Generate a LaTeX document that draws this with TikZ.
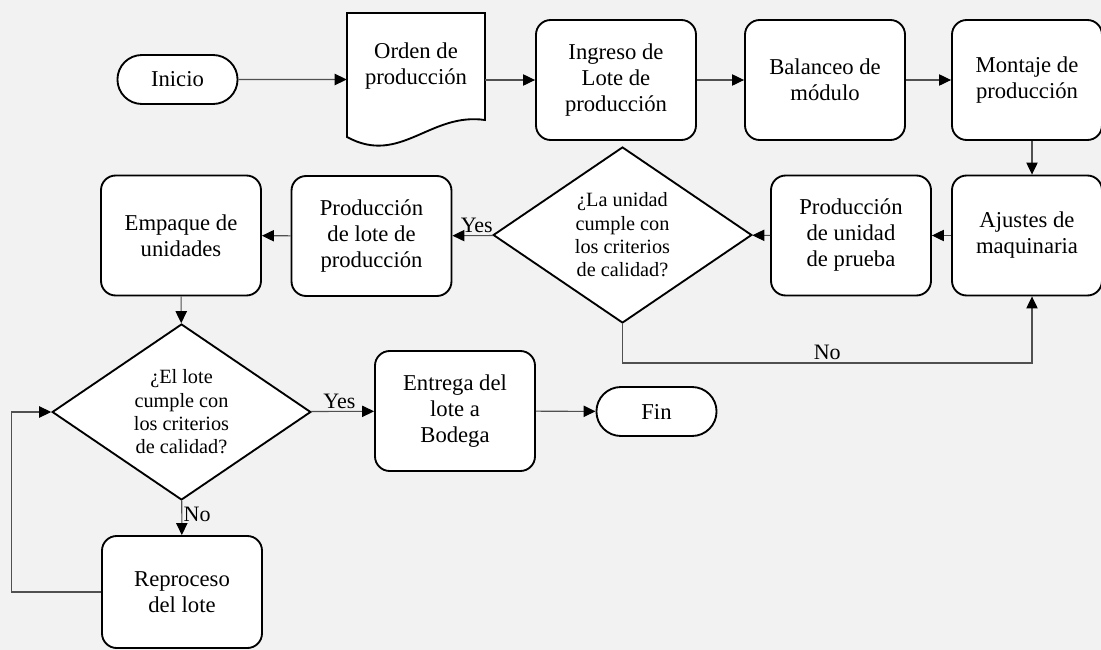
\documentclass[tikz,border=0pt]{standalone}
\usepackage{fontspec}
\setmainfont{Liberation Serif}
\usetikzlibrary{positioning,shapes.geometric,shapes.misc,arrows.meta}
\definecolor{fondo}{RGB}{242,242,242}
\definecolor{linea}{RGB}{80,80,80}

\begin{document}
\begin{tikzpicture}[x=0.75pt, y=-0.75pt,
    proceso/.style = { draw, line width=1.4pt, fill=white, rounded corners=11pt, align=center,
      minimum width=120pt, minimum height=90pt, font=\fontsize{17}{19.5}\selectfont },
    terminal/.style = { draw, line width=1.4pt, fill=white, rounded rectangle,
      minimum width=96.75pt, minimum height=36.75pt, font=\fontsize{17}{19.5}\selectfont },
    decision/.style = { draw, line width=1.4pt, fill=white, diamond, aspect=1.47, inner sep=0pt,
      align=center, minimum width=194pt, minimum height=132pt, font=\fontsize{15.2}{17.5}\selectfont },
    flecha/.style = { draw=linea, line width=0.8pt, -{Triangle[length=9pt,width=8.5pt,color=black]} },
    etiqueta/.style = { font=\fontsize{16.5}{18}\selectfont, inner sep=2pt } ]
  \useasboundingbox (0,0) rectangle (1101,650);
  \fill[fondo] (0,0) rectangle (1101,650);

  % primera fila
  \node[terminal] (inicio) at (177.5,79.5) {Inicio};
  \draw[line width=1.4pt, fill=white] (347,13) -- (485,13) -- (485,120)
    .. controls (430,112) and (400,166) .. (347,137) -- cycle;
  \node[align=center, inner sep=0pt, minimum width=103.5pt, minimum height=80.25pt,
    font=\fontsize{17}{19.5}\selectfont] (orden) at (416,66.5) {Orden de\\producción};
  \node[proceso] (ingreso) at (616,80) {Ingreso de\\Lote de\\producción};
  \node[proceso] (balanceo) at (825,80) {Balanceo de\\módulo};
  \node[proceso, minimum width=112.5pt] (montaje) at (1027,80) {Montaje de\\producción};

  % segunda fila
  \node[proceso, minimum width=112.5pt] (ajustes) at (1027,235.5) {Ajustes de\\maquinaria};
  \node[proceso] (unidad) at (851,235.5) {Producción\\de unidad\\de prueba};
  \node[decision] (calidadU) at (622.5,235) {¿La unidad\\cumple con\\los criterios\\de calidad?};
  \node[proceso] (lote) at (371.5,236) {Producción\\de lote de\\producción};
  \node[proceso] (empaque) at (181,235.5) {Empaque de\\unidades};

  % tercera fila
  \node[decision] (calidadL) at (181.5,412) {¿El lote\\cumple con\\los criterios\\de calidad?};
  \node[proceso] (entrega) at (455,411) {Entrega del\\lote a\\Bodega};
  \node[terminal] (fin) at (656.5,411.5) {Fin};
  \node[proceso, minimum height=84pt] (reproceso) at (182,592) {Reproceso\\del lote};

  \coordinate (vueltaU) at (1032,363);

  \draw[flecha] (inicio) -- (inicio -| orden.west);
  \draw[flecha] (ingreso -| orden.east) -- (ingreso);
  \draw[flecha] (ingreso) -- (balanceo);
  \draw[flecha] (balanceo) -- (montaje);
  \draw[flecha] ([xshift=3.75pt]montaje.south) -- ([xshift=3.75pt]ajustes.north);
  \draw[flecha] (ajustes) -- (unidad);
  \draw[flecha] (unidad) -- (calidadU);
  \draw[flecha] (calidadU) -- node[etiqueta, above, pos=.4] {Yes} (lote);
  \draw[flecha] (lote) -- (empaque);
  \draw[flecha] (empaque) -- (calidadL);
  \draw[flecha] (calidadU.south) |- node[etiqueta, above, pos=.75] {No} (vueltaU)
    -- ([xshift=3.75pt]ajustes.south);
  \draw[flecha] (calidadL) -- node[etiqueta, above, pos=.45] {Yes} (entrega);
  \draw[flecha] (entrega) -- (fin);
  \draw[flecha] (calidadL) -- node[etiqueta, right, pos=.4, inner sep=1pt] {No} (reproceso);
  \draw[flecha] (reproceso.west) -- ++(-90,0) |- (calidadL.west);
\end{tikzpicture}
\end{document}
